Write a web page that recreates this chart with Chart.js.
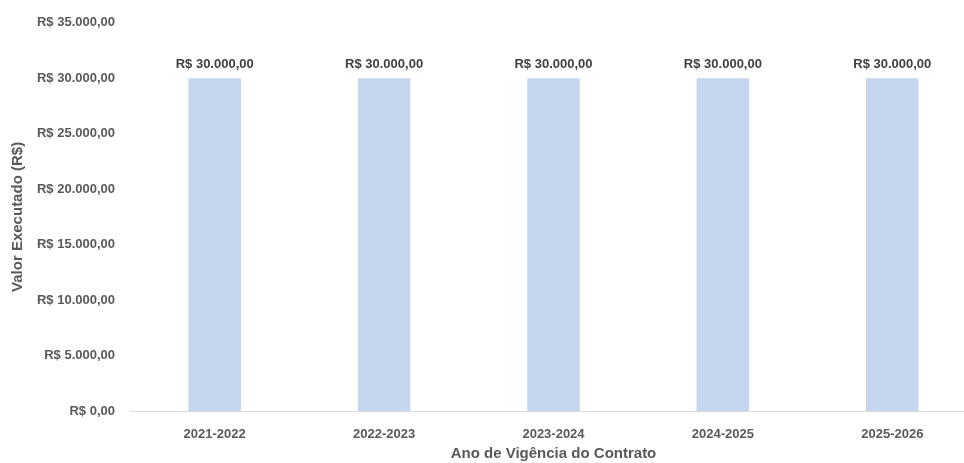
<!DOCTYPE html>
<html>
<head>
<meta charset="utf-8">
<script src="https://cdn.jsdelivr.net/npm/chart.js@4"></script>
<style>
  html, body { margin: 0; padding: 0; background: #fff; overflow: hidden; }
  #wrap { width: 964px; height: 463px; overflow: hidden; position: relative; }
  #box { width: 990px; height: 463px; position: absolute; left: 0; top: 0; }
</style>
</head>
<body>
<div id="wrap"><div id="box"><canvas id="chart"></canvas></div></div>
<script>
// dados do gráfico
const anos = ['2021-2022', '2022-2023', '2023-2024', '2024-2025', '2025-2026'];
const valores = [30000, 30000, 30000, 30000, 30000];
const yMax = 35000;
const yStep = 5000;

const fonte = '"Liberation Sans Narrow", "Arial Narrow", "Liberation Sans", sans-serif';
const cinza = '#595959';

function brl(v) {
  return 'R$ ' + v.toLocaleString('pt-BR', { minimumFractionDigits: 2, maximumFractionDigits: 2 });
}

// rótulos acima das barras
const rotulos = {
  id: 'rotulos',
  afterDatasetsDraw(chart) {
    const ctx = chart.ctx;
    const meta = chart.getDatasetMeta(0);
    ctx.save();
    ctx.font = 'bold 13px ' + fonte;
    ctx.fillStyle = '#404040';
    ctx.textAlign = 'center';
    ctx.textBaseline = 'bottom';
    meta.data.forEach((bar, i) => {
      ctx.fillText(brl(valores[i]), bar.x, bar.y - 7);
    });
    ctx.restore();
  }
};

new Chart(document.getElementById('chart'), {
  type: 'bar',
  data: {
    labels: anos,
    datasets: [{
      label: 'Valor Executado',
      data: valores,
      backgroundColor: '#c5d6ef',
      barPercentage: 0.31,
      categoryPercentage: 1
    }]
  },
  options: {
    responsive: true,
    maintainAspectRatio: false,
    animation: false,
    layout: { padding: { top: 22, right: 13, left: 9, bottom: 0 } },
    plugins: { legend: { display: false }, tooltip: { enabled: false } },
    scales: {
      x: {
        grid: { display: false, drawTicks: false },
        border: { display: true, color: '#d9d9d9', width: 1 },
        ticks: { color: cinza, font: { family: fonte, size: 13, weight: 'bold' }, padding: 16 },
        title: { display: true, text: 'Ano de Vigência do Contrato', color: cinza,
                 font: { family: fonte, size: 15, weight: 'bold' }, padding: { top: 0, bottom: 0 } },
        afterFit(scale) { scale.height = 52; }
      },
      y: {
        min: 0,
        max: yMax,
        grid: { display: false, drawTicks: false },
        border: { display: false },
        ticks: { stepSize: yStep, color: cinza, font: { family: fonte, size: 13, weight: 'bold' },
                 padding: 15, callback: v => brl(v) },
        title: { display: true, text: 'Valor Executado (R$)', color: cinza,
                 font: { family: fonte, size: 15, weight: 'bold' }, padding: { top: 0, bottom: 0 } },
        afterFit(scale) { scale.width = 121; }
      }
    }
  },
  plugins: [rotulos]
});
</script>
</body>
</html>
